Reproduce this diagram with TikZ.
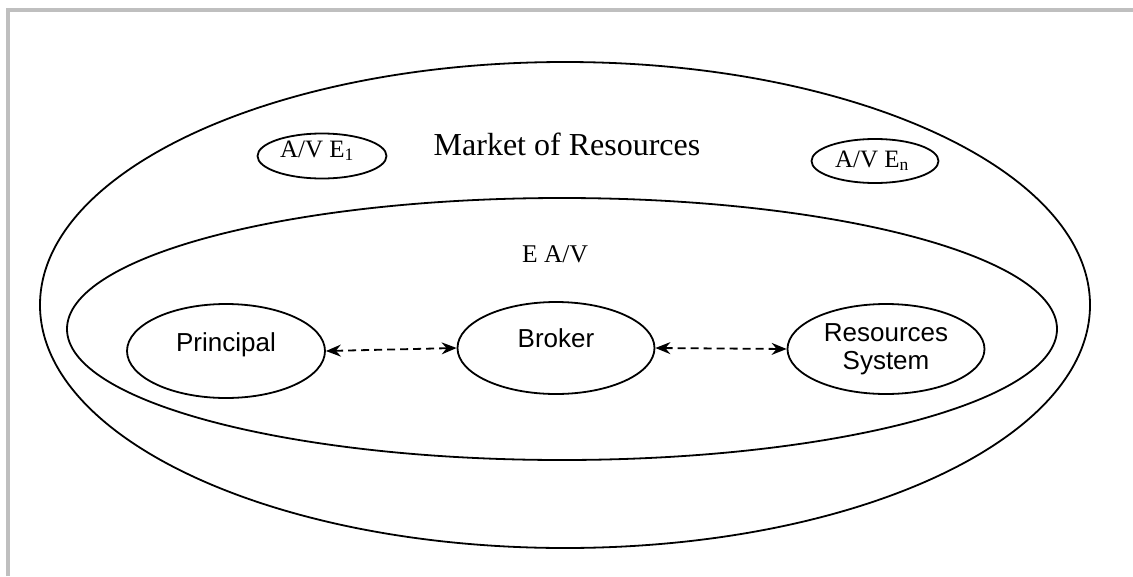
\documentclass[tikz,border=0pt]{standalone}
\usepackage{fontspec}
\setmainfont{Liberation Serif}
\setsansfont{Liberation Sans}
\usetikzlibrary{shapes.geometric,arrows.meta}

\begin{document}
\begin{tikzpicture}[x=1pt,y=-1pt,
	oval/.style={draw,ellipse,line width=1.8pt,inner sep=0pt},
	link/.style={line width=1.8pt,dash pattern=on 8pt off 5pt,{Stealth[length=15pt,width=12pt,inset=5pt]}-{Stealth[length=15pt,width=12pt,inset=5pt]}},
	sanstxt/.style={font=\sffamily\fontsize{26}{28}\selectfont,align=center}]
	\useasboundingbox (0,0) rectangle (1133,576);
	\draw[line width=4pt,color=black!25] (8,576) -- (8,9.5) -- (1133,9.5);

	% market and the other A/V
	\node[oval,minimum width=1050pt,minimum height=486pt] (market) at (565,305) {};
	\node[anchor=base,font=\fontsize{32}{38}\selectfont] (mtitle) at (567,155) {Market of Resources};
	\node[oval,minimum width=129pt,minimum height=45pt] (ave1) at (322,156) {};
	\node[anchor=base,font=\fontsize{25}{28}\selectfont] (ave1txt) at (317,157) {A/V E\textsubscript{1}};
	\node[oval,minimum width=127pt,minimum height=44pt] (aven) at (875,161) {};
	\node[anchor=base,font=\fontsize{25}{28}\selectfont] (aventxt) at (872,167) {A/V E\textsubscript{n}};

	% E A/V
	\node[oval,minimum width=990pt,minimum height=262pt] (eav) at (562,329) {};
	\node[anchor=base,font=\fontsize{25.5}{28}\selectfont] (eavtxt) at (555,262) {E A/V};

	\node[oval,minimum width=198pt,minimum height=94pt] (pr) at (226,351) {};
	\node[oval,minimum width=197pt,minimum height=92pt] (br) at (556,348) {};
	\node[oval,minimum width=197pt,minimum height=90pt] (rs) at (886,349) {};
	\node[sanstxt,anchor=base] (prtxt) at (226,351) {Principal};
	\node[sanstxt,anchor=base] (brtxt) at (556,347) {Broker};
	\node[sanstxt] (rstxt) at (886,349) {Resources\\System};

	\draw[link] (pr.east) -- (br.west);
	\draw[link] (br.east) -- (rs.west);
\end{tikzpicture}
\end{document}
